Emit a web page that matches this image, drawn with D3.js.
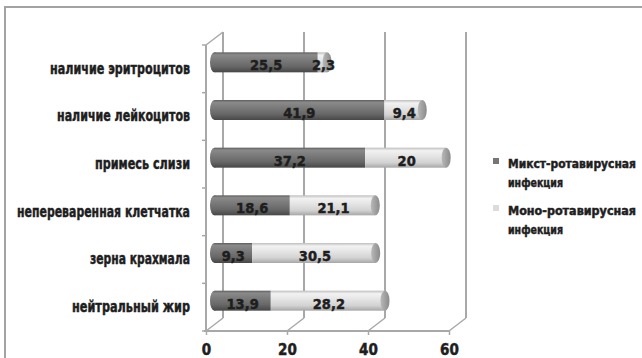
<!DOCTYPE html>
<html><head><meta charset="utf-8">
<script src="https://cdn.jsdelivr.net/npm/d3@7"></script>
<style>
html,body{margin:0;padding:0;background:#fff;}
text{font-family:"Liberation Sans Narrow","DejaVu Sans Condensed","Roboto Condensed",sans-serif;font-weight:bold;fill:#1e1e1e;stroke:#1e1e1e;stroke-width:0.45px;}
</style></head>
<body>
<svg id="c" width="642" height="358"></svg>
<script>
const categories = ["наличие эритроцитов","наличие лейкоцитов","примесь слизи","непереваренная клетчатка","зерна крахмала","нейтральный жир"];
const mixed = [25.5, 41.9, 37.2, 18.6, 9.3, 13.9];
const mono = [2.3, 9.4, 20, 21.1, 30.5, 28.2];
const seriesNames = ["Микст-ротавирусная инфекция","Моно-ротавирусная инфекция"];
const xTicks = [0, 20, 40, 60];
const labelWidths = [140, 133, 95, 173, 100, 118];

const svg = d3.select("#c");
const fx = 206, fyTop = 45, fyBot = 331;
const dX = 17, dY = -13;           // depth offset (front -> back)
const bX = 8.5, bY = -6.5;         // bar depth offset
const x = d3.scaleLinear().domain([0, 60]).range([0, 243]);
const y = d3.scaleBand().domain(categories).range([fyTop, fyBot]);
const fmt = v => String(v).replace(".", ",");

// frame
svg.append("path").attr("d", "M5,358 V7 H642").attr("fill", "none").attr("stroke", "#a3a3a3").attr("stroke-width", 2);

const gridCol = "#a8a8a8";
// back wall gridlines
svg.append("g").selectAll("line").data(xTicks).join("line")
  .attr("x1", d => fx + dX + x(d)).attr("x2", d => fx + dX + x(d))
  .attr("y1", fyTop + dY).attr("y2", fyBot + dY)
  .attr("stroke", gridCol).attr("stroke-width", 2);
// floor diagonals
svg.append("g").selectAll("line").data(xTicks).join("line")
  .attr("x1", d => fx + x(d)).attr("x2", d => fx + dX + x(d))
  .attr("y1", fyBot).attr("y2", fyBot + dY)
  .attr("stroke", gridCol).attr("stroke-width", 1.5);
// top-left diagonal
svg.append("line").attr("x1", fx).attr("y1", fyTop).attr("x2", fx + dX).attr("y2", fyTop + dY)
  .attr("stroke", gridCol).attr("stroke-width", 1.5);

// gradients
const defs = svg.append("defs");
function grad(id, stops) {
  const g = defs.append("linearGradient").attr("id", id).attr("x1", 0).attr("y1", 0).attr("x2", 0).attr("y2", 1);
  stops.forEach(s => g.append("stop").attr("offset", s[0]).attr("stop-color", s[1]));
}
grad("gDark", [[0, "#5e5e5e"], [0.12, "#8a8a8a"], [0.35, "#7c7c7c"], [0.7, "#686868"], [1, "#474747"]]);
grad("gLight", [[0, "#bdbdbd"], [0.15, "#f2f2f2"], [0.4, "#e6e6e6"], [0.75, "#d2d2d2"], [1, "#a6a6a6"]]);
const gc = defs.append("linearGradient").attr("id", "gCap").attr("x1", 0).attr("y1", 0).attr("x2", 1).attr("y2", 0);
gc.append("stop").attr("offset", 0).attr("stop-color", "#b8b8b8");
gc.append("stop").attr("offset", 1).attr("stop-color", "#8a8a8a");

// bars
const bh = 20, rx = 4.5;
const bars = svg.append("g");
categories.forEach((c, i) => {
  const cy = y(c) + y.bandwidth() / 2 + bY;
  const x0 = fx + bX;
  const xs = x0 + x(mixed[i]);
  const xe = xs + x(mono[i]);
  const g = bars.append("g");
  g.append("ellipse").attr("cx", x0).attr("cy", cy).attr("rx", rx).attr("ry", bh / 2).attr("fill", "url(#gDark)");
  g.append("rect").attr("x", x0).attr("y", cy - bh / 2).attr("width", xs - x0).attr("height", bh).attr("fill", "url(#gDark)");
  g.append("rect").attr("x", xs).attr("y", cy - bh / 2).attr("width", xe - xs).attr("height", bh).attr("fill", "url(#gLight)");
  g.append("ellipse").attr("cx", xe).attr("cy", cy).attr("rx", rx).attr("ry", bh / 2).attr("fill", "url(#gCap)");
  g.append("text").attr("x", (x0 + xs) / 2).attr("y", cy + 8).attr("text-anchor", "middle")
    .style("font-size", "14.5px").text(fmt(mixed[i]));
  g.append("text").attr("x", (xs + xe) / 2 + 1).attr("y", cy + 8).attr("text-anchor", "middle")
    .style("font-size", "14.5px").text(fmt(mono[i]));
});

// left axis (front)
const yAxis = svg.append("g").attr("transform", `translate(${fx},0)`)
  .call(d3.axisLeft(y).tickSize(0).tickPadding(16));
yAxis.select(".domain").attr("stroke", gridCol).attr("stroke-width", 2).attr("d", `M0,${fyTop}V${fyBot}`);
yAxis.selectAll("text").style("font-size", "15px").attr("dy", "0.32em")
  .attr("textLength", (d, i) => labelWidths[i]).attr("lengthAdjust", "spacingAndGlyphs");
// boundary ticks
const bounds = categories.map(c => y(c)).concat([fyBot]);
svg.append("g").selectAll("line").data(bounds).join("line")
  .attr("x1", fx - 4).attr("x2", fx).attr("y1", d => d).attr("y2", d => d)
  .attr("stroke", gridCol).attr("stroke-width", 1.5);

// bottom axis (front)
const xAxis = svg.append("g").attr("transform", `translate(${fx},${fyBot})`)
  .call(d3.axisBottom(x).tickValues(xTicks).tickSize(4).tickPadding(9).tickSizeOuter(0));
xAxis.select(".domain").attr("stroke", gridCol).attr("stroke-width", 2).attr("d", `M-2,0H${x(60)}`);
xAxis.selectAll(".tick line").attr("stroke", gridCol).attr("stroke-width", 1.5);
xAxis.selectAll("text").style("font-size", "15px").style("fill", "#1e1e1e");

// legend
const legend = svg.append("g");
const legCols = ["#767676", "#dcdcdc"];
const legY = [158, 205];
seriesNames.forEach((n, i) => {
  legend.append("rect").attr("x", 493).attr("y", legY[i]).attr("width", 6).attr("height", 6).attr("fill", legCols[i]);
  const parts = n.split(" ");
  legend.append("text").attr("x", 508).attr("y", legY[i] + 10).style("font-size", "12px")
    .attr("textLength", 128).attr("lengthAdjust", "spacingAndGlyphs").text(parts[0]);
  legend.append("text").attr("x", 508).attr("y", legY[i] + 29).style("font-size", "12px")
    .attr("textLength", 55).attr("lengthAdjust", "spacingAndGlyphs").text(parts[1]);
});
</script>
</body></html>
